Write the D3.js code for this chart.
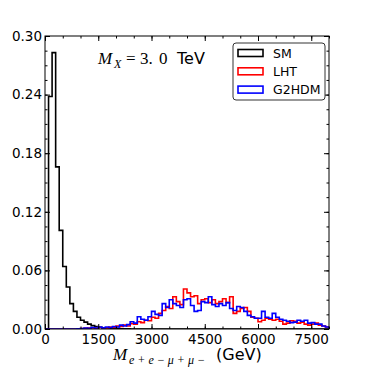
<!DOCTYPE html>
<html>
<head>
<meta charset="utf-8">
<script src="https://cdn.jsdelivr.net/npm/d3@7"></script>
<style>
  body { margin: 0; background: #fff; }
  svg { display: block; }
</style>
</head>
<body>
<script>
// histogram of the 4-lepton invariant mass, 100 GeV bins from 0 to 8000 GeV
var binWidth = 100;
var binLow = d3.range(0, 8000, binWidth);   // lower edge of each bin (GeV)

// normalised counts per bin
var smVals = [
  0, 0.238, 0.283, 0.166, 0.101, 0.064, 0.043, 0.026, 0.018, 0.012,
  0.009, 0.007, 0.005, 0.0035, 0.0025, 0.0018, 0.0012, 0.001, 0.0007, 0.0005,
  0.0004, 0.0003, 0.0002, 0.0002, 0, 0, 0, 0, 0, 0,
  0, 0, 0, 0, 0, 0, 0, 0, 0, 0,
  0, 0, 0, 0, 0, 0, 0, 0, 0, 0,
  0, 0, 0, 0, 0, 0, 0, 0, 0, 0,
  0, 0, 0, 0, 0, 0, 0, 0, 0, 0,
  0, 0, 0, 0, 0, 0, 0, 0, 0, 0
];
var lhtVals = [
  0, 0, 0, 0, 0, 0, 0, 0, 0, 0,
  0.0005, 0.0008, 0.001, 0.0012, 0.0008, 0.0015, 0.001, 0.0012, 0.002, 0.0015,
  0.003, 0.0025, 0.004, 0.003, 0.0055, 0.005, 0.0075, 0.0065, 0.009, 0.0085,
  0.012, 0.011, 0.016, 0.019, 0.023, 0.021, 0.033, 0.028, 0.025, 0.041,
  0.037, 0.033, 0.034, 0.026, 0.030, 0.031, 0.027, 0.030, 0.026, 0.028,
  0.031, 0.027, 0.033, 0.016, 0.018, 0.021, 0.022, 0.018, 0.012, 0.011,
  0.0075, 0.009, 0.011, 0.010, 0.009, 0.010, 0.008, 0.005, 0.006, 0.0085,
  0.008, 0.006, 0.007, 0.005, 0.004, 0.005, 0.006, 0.004, 0.003, 0.002
];
var g2hdmVals = [
  0, 0, 0, 0, 0, 0, 0, 0, 0, 0.0003,
  0.0005, 0.001, 0.0008, 0.0015, 0.001, 0.002, 0.0012, 0.002, 0.0015, 0.0025,
  0.002, 0.004, 0.003, 0.0045, 0.0075, 0.006, 0.0125, 0.010, 0.009, 0.0125,
  0.018, 0.015, 0.014, 0.026, 0.022, 0.030, 0.026, 0.024, 0.022, 0.030,
  0.031, 0.024, 0.018, 0.019, 0.028, 0.027, 0.033, 0.025, 0.023, 0.026,
  0.024, 0.027, 0.021, 0.019, 0.023, 0.022, 0.018, 0.014, 0.0125, 0.011,
  0.011, 0.018, 0.012, 0.011, 0.016, 0.012, 0.010, 0.009, 0.008, 0.0065,
  0.007, 0.009, 0.008, 0.009, 0.006, 0.0065, 0.005, 0.005, 0.003, 0.002
];

var seriesNames = ["SM", "LHT", "G2HDM"];
var seriesColors = ["#000000", "#ff0000", "#0000ff"];
var seriesVals = [smVals, lhtVals, g2hdmVals];

var xTicks = [0, 1500, 3000, 4500, 6000, 7500];
var xMinor = d3.range(0, 8001, 500);
var yTicks = [0, 0.06, 0.12, 0.18, 0.24, 0.30];
var yMinor = d3.range(0, 0.3001, 0.015);

var w = 367, h = 367;
// plot box edges (note: "top" is taken by window.top, so prefix them)
var pLeft = 45, pRight = 329, pTop = 36, pBottom = 329;

var svg = d3.select("body").append("svg")
    .attr("width", w)
    .attr("height", h);

var x = d3.scaleLinear().domain([0, 8000]).range([pLeft, pRight]);
var y = d3.scaleLinear().domain([0, 0.30]).range([pBottom, pTop]);

svg.append("clipPath").attr("id", "plotclip")
  .append("rect")
    .attr("x", pLeft).attr("y", pTop)
    .attr("width", pRight - pLeft).attr("height", pBottom - pTop);

// step outline like matplotlib histtype='step'
function stepPoints(vals) {
  var pts = [[binLow[0], 0]];
  vals.forEach(function(v, i) {
    pts.push([binLow[i], v]);
    pts.push([binLow[i] + binWidth, v]);
  });
  pts.push([binLow[binLow.length - 1] + binWidth, 0]);
  return pts;
}

var line = d3.line()
    .x(function(d) { return x(d[0]); })
    .y(function(d) { return y(d[1]); });

svg.append("g").attr("clip-path", "url(#plotclip)")
  .selectAll("path")
  .data(seriesVals)
  .enter()
  .append("path")
    .attr("d", function(d) { return line(stepPoints(d)); })
    .attr("fill", "none")
    .attr("stroke", function(d, i) { return seriesColors[i]; })
    .attr("stroke-width", 1.6)
    .attr("stroke-linejoin", "miter");

// axes, ticks pointing in on all four sides
var fmtX = d3.format("d");
var fmtY = d3.format(".2f");

function styleAxis(g) {
  g.select(".domain").remove();
  g.selectAll("line").attr("stroke", "#000").attr("stroke-width", 1);
  g.selectAll("text")
    .attr("fill", "#000")
    .style("font-family", "DejaVu Sans, sans-serif")
    .style("font-size", "13.5px");
}

svg.append("g").attr("transform", "translate(0," + pBottom + ")")
  .call(d3.axisBottom(x).tickValues(xMinor).tickSizeInner(-2.5).tickSizeOuter(0).tickFormat(""))
  .call(styleAxis);
svg.append("g").attr("transform", "translate(0," + pBottom + ")")
  .call(d3.axisBottom(x).tickValues(xTicks).tickSizeInner(-5).tickSizeOuter(0).tickPadding(5).tickFormat(fmtX))
  .call(styleAxis);
svg.append("g").attr("transform", "translate(0," + pTop + ")")
  .call(d3.axisTop(x).tickValues(xMinor).tickSizeInner(-2.5).tickSizeOuter(0).tickFormat(""))
  .call(styleAxis);
svg.append("g").attr("transform", "translate(0," + pTop + ")")
  .call(d3.axisTop(x).tickValues(xTicks).tickSizeInner(-5).tickSizeOuter(0).tickFormat(""))
  .call(styleAxis);

svg.append("g").attr("transform", "translate(" + pLeft + ",0)")
  .call(d3.axisLeft(y).tickValues(yMinor).tickSizeInner(-2.5).tickSizeOuter(0).tickFormat(""))
  .call(styleAxis);
svg.append("g").attr("transform", "translate(" + pLeft + ",0)")
  .call(d3.axisLeft(y).tickValues(yTicks).tickSizeInner(-5).tickSizeOuter(0).tickPadding(3).tickFormat(fmtY))
  .call(styleAxis);
svg.append("g").attr("transform", "translate(" + pRight + ",0)")
  .call(d3.axisRight(y).tickValues(yMinor).tickSizeInner(-2.5).tickSizeOuter(0).tickFormat(""))
  .call(styleAxis);
svg.append("g").attr("transform", "translate(" + pRight + ",0)")
  .call(d3.axisRight(y).tickValues(yTicks).tickSizeInner(-5).tickSizeOuter(0).tickFormat(""))
  .call(styleAxis);

// frame
svg.append("rect")
    .attr("x", pLeft).attr("y", pTop)
    .attr("width", pRight - pLeft).attr("height", pBottom - pTop)
    .attr("fill", "none")
    .attr("stroke", "#000")
    .attr("stroke-width", 1);

// M_X = 3.0 TeV annotation
var ann = svg.append("text").attr("y", 64).attr("fill", "#000");
ann.append("tspan").attr("x", 98)
    .style("font-family", "Liberation Serif, serif").style("font-style", "italic").style("font-size", "17px")
    .text("M");
ann.append("tspan").attr("x", 114).attr("dy", 4)
    .style("font-family", "Liberation Serif, serif").style("font-style", "italic").style("font-size", "12px")
    .text("X");
ann.append("tspan").attr("x", 126).attr("dy", -4)
    .style("font-family", "Liberation Serif, serif").style("font-size", "17px")
    .text("=");
ann.append("tspan").attr("x", 140)
    .style("font-family", "Liberation Serif, serif").style("font-size", "17px")
    .text("3.");
ann.append("tspan").attr("x", 159)
    .style("font-family", "Liberation Serif, serif").style("font-size", "17px")
    .text("0");
ann.append("tspan").attr("x", 177)
    .style("font-family", "DejaVu Sans, sans-serif").style("font-size", "16px")
    .text("TeV");

// x axis label
var xl = svg.append("text").attr("y", 360).attr("fill", "#000");
xl.append("tspan").attr("x", 113)
    .style("font-family", "Liberation Serif, serif").style("font-style", "italic").style("font-size", "17px")
    .text("M");
xl.append("tspan").attr("x", 129).attr("dy", 4)
    .style("font-family", "Liberation Serif, serif").style("font-style", "italic").style("font-size", "12px")
    .text("e + e \u2212 \u03bc + \u03bc \u2212");
xl.append("tspan").attr("x", 216).attr("dy", -4)
    .style("font-family", "DejaVu Sans, sans-serif").style("font-size", "16px")
    .text("(GeV)");

// legend
var lg = svg.append("g");
lg.append("rect")
    .attr("x", 233).attr("y", 43).attr("width", 92).attr("height", 57)
    .attr("rx", 3).attr("ry", 3)
    .attr("fill", "#fff").attr("stroke", "#333").attr("stroke-width", 1);

var rows = lg.selectAll("g.row")
  .data(seriesNames)
  .enter()
  .append("g")
    .attr("class", "row")
    .attr("transform", function(d, i) { return "translate(238," + (53 + i * 18.3) + ")"; });
rows.append("rect")
    .attr("x", 0).attr("y", -3.5).attr("width", 25).attr("height", 7)
    .attr("fill", "none")
    .attr("stroke", function(d, i) { return seriesColors[i]; })
    .attr("stroke-width", 1.6);
rows.append("text")
    .attr("x", 35).attr("dy", "0.36em")
    .attr("fill", "#000")
    .style("font-family", "DejaVu Sans, sans-serif")
    .style("font-size", "12.5px")
    .text(function(d) { return d; });
</script>
</body>
</html>
